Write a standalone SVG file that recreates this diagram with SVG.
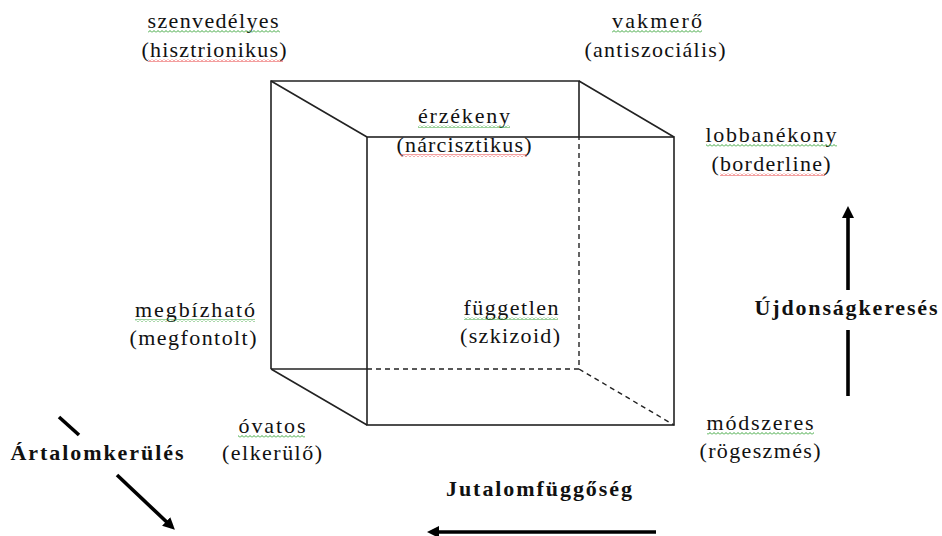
<svg xmlns="http://www.w3.org/2000/svg" width="942" height="536" viewBox="0 0 942 536">
<style>
.lbl{font-family:"Liberation Serif","Times New Roman",serif;font-size:22px;fill:#111;text-anchor:middle}
.ax{font-family:"Liberation Serif","Times New Roman",serif;font-size:22px;font-weight:bold;fill:#111;text-anchor:middle}
.edge{stroke:#222;stroke-width:1.6;fill:none}
.hid{stroke:#222;stroke-width:1.4;fill:none;stroke-dasharray:5 4}
.arr{stroke:#000;stroke-width:3.6;fill:none}
</style>
<defs>
<pattern id="sqG" patternUnits="userSpaceOnUse" width="4" height="3"><path d="M0,2.5 L2,0.5 L4,2.5" stroke="#3aa43a" stroke-width="1" fill="none"/></pattern>
<pattern id="sqR" patternUnits="userSpaceOnUse" width="4" height="3"><path d="M0,2.5 L2,0.5 L4,2.5" stroke="#e84040" stroke-width="1" fill="none"/></pattern>
<marker id="head" markerUnits="userSpaceOnUse" markerWidth="14" markerHeight="14" refX="8" refY="6" orient="auto"><path d="M0,0 L12,6 L0,12 z" fill="#000"/></marker>
</defs>
<rect width="942" height="536" fill="#fff"/>

<g id="cube">
<path class="edge" d="M271,369 V81 H579 V137"/>
<path class="edge" d="M271,369 H367"/>
<path class="edge" d="M271,81 L367,137 M579,81 L674,137 M271,369 L367,425"/>
<rect class="edge" x="367" y="137" width="307" height="288"/>
<path class="hid" d="M367,369 H579 V137 M579,369 L674,425"/>
</g>

<g id="szenvedelyes">
<text class="lbl" x="213" y="28" textLength="131">szenvedélyes</text>
<rect x="148" y="30" width="132" height="3" fill="url(#sqG)"/>
<text class="lbl" x="214" y="57" textLength="145">(hisztrionikus)</text>
<rect x="148" y="59" width="135" height="3" fill="url(#sqR)"/>
</g>

<g id="vakmero">
<text class="lbl" x="657" y="28" textLength="90">vakmerő</text>
<rect x="612" y="30" width="90" height="3" fill="url(#sqG)"/>
<text class="lbl" x="655" y="57" textLength="141">(antiszociális)</text>
</g>

<g id="lobbanekony">
<text class="lbl" x="771" y="142" textLength="131">lobbanékony</text>
<rect x="706" y="144" width="131" height="3" fill="url(#sqG)"/>
<text class="lbl" x="771" y="171" textLength="119">(borderline)</text>
<rect x="720" y="173" width="105" height="3" fill="url(#sqR)"/>
</g>

<g id="erzekeny">
<text class="lbl" x="464" y="123" textLength="92">érzékeny</text>
<rect x="418" y="125" width="92" height="3" fill="url(#sqG)"/>
<text class="lbl" x="464" y="152" textLength="135">(nárcisztikus)</text>
<rect x="400" y="154" width="127" height="3" fill="url(#sqR)"/>
</g>

<g id="megbizhato">
<text class="lbl" x="195" y="317" textLength="120">megbízható</text>
<rect x="135" y="319" width="120" height="3" fill="url(#sqG)"/>
<text class="lbl" x="193" y="345" textLength="127">(megfontolt)</text>
</g>

<g id="fuggetlen">
<text class="lbl" x="511" y="315" textLength="95">független</text>
<rect x="464" y="317" width="94" height="3" fill="url(#sqG)"/>
<text class="lbl" x="510" y="343" textLength="100">(szkizoid)</text>
</g>

<g id="ovatos">
<text class="lbl" x="272" y="433" textLength="67">óvatos</text>
<rect x="238" y="435" width="67" height="3" fill="url(#sqG)"/>
<text class="lbl" x="272" y="460" textLength="100">(elkerülő)</text>
</g>

<g id="modszeres">
<text class="lbl" x="760" y="430" textLength="107">módszeres</text>
<rect x="707" y="432" width="107" height="3" fill="url(#sqG)"/>
<text class="lbl" x="760" y="458" textLength="121">(rögeszmés)</text>
</g>

<g id="ujdonsagkereses">
<text class="ax" x="846" y="315" textLength="183">Újdonságkeresés</text>
</g>
<g id="jutalomfuggoseg">
<text class="ax" x="539" y="496" textLength="186">Jutalomfüggőség</text>
</g>
<g id="artalomkerules">
<text class="ax" x="97" y="460" textLength="173">Ártalomkerülés</text>
</g>

<g id="connectors">
<line class="arr" x1="848" y1="290" x2="848" y2="210" marker-end="url(#head)"/>
<line class="arr" x1="848" y1="330" x2="848" y2="396"/>
<line class="arr" x1="656" y1="532" x2="431" y2="532" marker-end="url(#head)"/>
<line class="arr" x1="59" y1="417" x2="79" y2="435"/>
<line class="arr" x1="117" y1="475" x2="172" y2="527" marker-end="url(#head)"/>
</g>
</svg>
